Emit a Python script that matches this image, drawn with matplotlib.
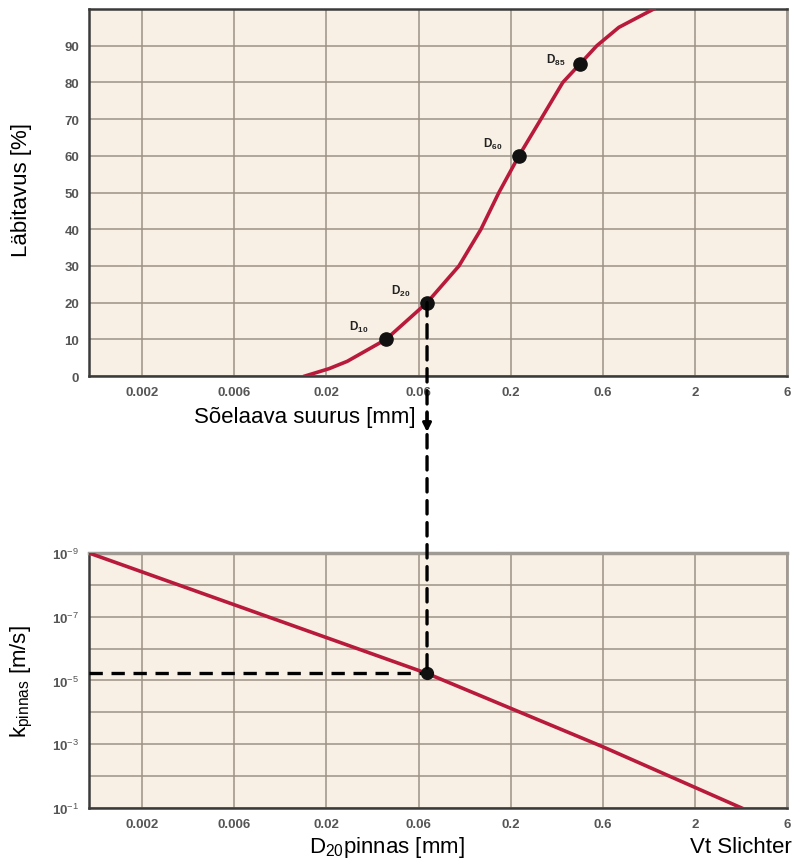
import numpy as np
import matplotlib.pyplot as plt
from matplotlib.patches import ConnectionPatch
from matplotlib.ticker import NullLocator

plt.rcParams['font.family'] = ['Liberation Sans', 'DejaVu Sans']
plt.rcParams['mathtext.fontset'] = 'custom'
plt.rcParams['mathtext.rm'] = 'Liberation Sans'
plt.rcParams['mathtext.it'] = 'Liberation Sans:italic'
plt.rcParams['mathtext.bf'] = 'Liberation Sans:bold'

# x-telje jaotus (1-3-10 samm, vordsete vahedega)
x_ticks = [0.002, 0.006, 0.02, 0.06, 0.2, 0.6, 2, 6]
x_tick_labels = ['0.002', '0.006', '0.02', '0.06', '0.2', '0.6', '2', '6']

# sõelkõver (loetud pildilt)
sieve_mm = [0.0151, 0.0206, 0.0256, 0.0407, 0.067, 0.1017, 0.1356, 0.1714,
            0.2206, 0.2868, 0.3724, 0.4564, 0.5588, 0.74, 1.168]
passing_pct = [0, 2, 4, 10, 20, 30, 40, 50, 60, 70, 80, 85, 90, 95, 100]

# tähistatud punktid
point_names = [r'$\mathbf{D_{10}}$', r'$\mathbf{D_{20}}$', r'$\mathbf{D_{60}}$', r'$\mathbf{D_{85}}$']
point_mm = [0.0407, 0.067, 0.2206, 0.4564]
point_pct = [10, 20, 60, 85]

# k_pinnas vs D20
k_d_mm = [0.00106, 0.067, 0.6, 3.49]
k_values = [1e-9, 6e-6, 1.2e-3, 1e-1]
d20_mm = 0.067
k20 = 6e-6

y1_ticks = list(range(0, 100, 10))
k_ticks = [1e-9, 1e-8, 1e-7, 1e-6, 1e-5, 1e-4, 1e-3, 1e-2, 1e-1]
k_tick_labels = [r'10$^{-9}$', '', r'10$^{-7}$', '', r'10$^{-5}$', '', r'10$^{-3}$', '', r'10$^{-1}$']

lt = np.log10(x_ticks)
pos = np.arange(len(x_ticks))


def fwd(x):
    lx = np.log10(np.clip(np.asarray(x, dtype=float), 1e-12, None))
    y = np.interp(lx, lt, pos)
    y = np.where(lx < lt[0], (lx - lt[0]) / (lt[1] - lt[0]), y)
    y = np.where(lx > lt[-1], pos[-1] + (lx - lt[-1]) / (lt[-1] - lt[-2]), y)
    return y


def inv(y):
    y = np.asarray(y, dtype=float)
    lx = np.interp(y, pos, lt)
    lx = np.where(y < 0, lt[0] + y * (lt[1] - lt[0]), lx)
    lx = np.where(y > pos[-1], lt[-1] + (y - pos[-1]) * (lt[-1] - lt[-2]), lx)
    return 10 ** lx


bg = '#f8f0e4'
grid_c = '#9d9286'
curve_c = '#b81a3c'
tick_font = dict(fontsize=9.5, fontweight='bold', color='#555555')

fig = plt.figure(figsize=(7.97, 8.62), dpi=100)
ax1 = fig.add_axes([0.1117, 0.5626, 0.8758, 0.4258])
ax2 = fig.add_axes([0.1117, 0.0615, 0.8758, 0.2958])

for ax in (ax1, ax2):
    ax.set_facecolor(bg)
    ax.set_xscale('function', functions=(fwd, inv))
    ax.set_xlim(0.00106, 6)
    ax.set_xticks(x_ticks)
    ax.set_xticklabels(x_tick_labels, **tick_font)
    ax.xaxis.set_minor_locator(NullLocator())
    ax.grid(True, color=grid_c, lw=1.1)
    ax.set_axisbelow(True)
    ax.tick_params(length=0, pad=7)
    ax.spines['left'].set_color('#3a3a3a')
    ax.spines['left'].set_linewidth(1.8)
    ax.spines['bottom'].set_color('#3a3a3a')
    ax.spines['bottom'].set_linewidth(1.8)
    ax.spines['right'].set_color('#a09a94')
    ax.spines['right'].set_linewidth(2)

ax1.spines['top'].set_color('#3a3a3a')
ax1.spines['top'].set_linewidth(1.8)
ax2.spines['top'].set_color('#a09a94')
ax2.spines['top'].set_linewidth(2.5)

# ülemine graafik
ax1.plot(sieve_mm, passing_pct, color=curve_c, lw=2.6, zorder=3,
         solid_joinstyle='round')
ax1.plot(point_mm, point_pct, 'o', color='#111111', ms=9.5, zorder=5)
offsets = [(-20, 9), (-19, 9), (-19, 9), (-17, 3)]
for name, xm, yp, off in zip(point_names, point_mm, point_pct, offsets):
    ax1.annotate(name, (xm, yp), xytext=off, textcoords='offset points',
                 ha='center', va='center', fontsize=8.5, color='#222222')
ax1.set_ylim(0, 100)
ax1.set_yticks(y1_ticks)
ax1.set_yticklabels([str(v) for v in y1_ticks], **tick_font)

# alumine graafik
ax2.set_yscale('log')
ax2.set_ylim(1e-1, 1e-9)
ax2.set_yticks(k_ticks)
ax2.set_yticklabels(k_tick_labels, **tick_font)
ax2.yaxis.set_minor_locator(NullLocator())
ax2.plot(k_d_mm, k_values, color=curve_c, lw=2.6, zorder=3,
         solid_joinstyle='round')
ax2.plot([ax2.get_xlim()[0], d20_mm], [k20, k20], color='k', lw=2.4,
         ls=(0, (4, 2.6)), zorder=4, clip_on=False)
ax2.plot([d20_mm], [k20], 'o', color='#111111', ms=8.5, zorder=5)

# vertikaalne katkendjoon graafikute vahel
con = ConnectionPatch(xyA=(d20_mm, 20), coordsA=ax1.transData,
                      xyB=(d20_mm, k20), coordsB=ax2.transData,
                      color='k', lw=2.4, linestyle=(0, (4, 2.6)), zorder=6)
fig.add_artist(con)
ax1.annotate('', xy=(d20_mm, -16), xytext=(d20_mm, -9),
             arrowprops=dict(arrowstyle='-|>,head_width=0.25,head_length=0.5',
                             color='k', lw=2.2),
             annotation_clip=False)

# tekstid
fig.text(22 / 797, 1 - 190 / 862, 'Läbitavus [%]', rotation=90,
         ha='center', va='center', fontsize=16)
fig.text(305 / 797, 1 - 417 / 862, 'Sõelaava suurus [mm]',
         ha='center', va='center', fontsize=16)
fig.text(22 / 797, 1 - 682 / 862, r'k$_{\mathrm{pinnas}}$ [m/s]', rotation=90,
         ha='center', va='center', fontsize=16)
fig.text(387 / 797, 1 - 848 / 862, r'D$_{\mathrm{20}}$pinnas [mm]',
         ha='center', va='center', fontsize=16)
fig.text(741 / 797, 1 - 848 / 862, 'Vt Slichter',
         ha='center', va='center', fontsize=16)

fig.savefig('out.png', dpi=100)
